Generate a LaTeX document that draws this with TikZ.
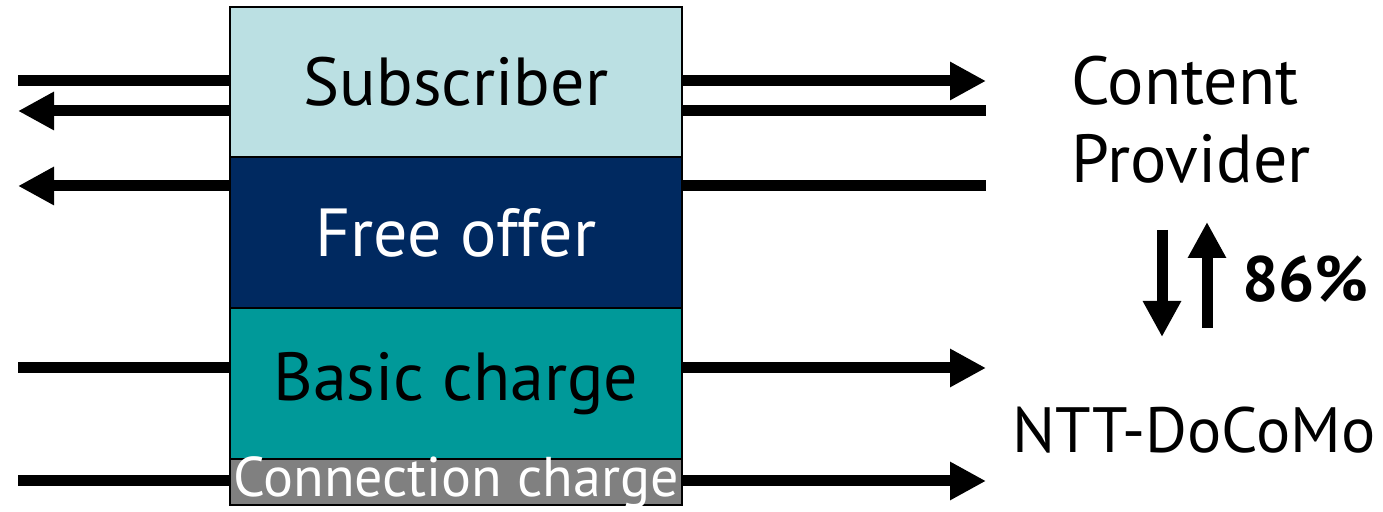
\documentclass[tikz,border=0pt]{standalone}
\usepackage{fontspec}
\setmainfont{PT Sans}
\usetikzlibrary{arrows.meta}

\definecolor{subcol}{HTML}{BBE0E3}
\definecolor{freecol}{HTML}{002960}
\definecolor{basiccol}{HTML}{009999}
\definecolor{conncol}{HTML}{808080}

\tikzset{
 band/.style={draw=black, line width=0.8pt, minimum width=226pt, inner sep=0, font=\fontsize{34}{40}\selectfont},
 flow/.style={line width=5.5pt, >={Triangle[length=18pt,width=18pt]}},
 party/.style={inner sep=0, font=\fontsize{34}{39}\selectfont}
}

\begin{document}
\begin{tikzpicture}[x=0.5pt,y=0.5pt]
\useasboundingbox (0,0) rectangle (1383,512);
\node[band, fill=subcol, minimum height=75pt] (sub) at (456,430) {Subscriber};
\node[band, fill=freecol, text=white, minimum height=75.5pt] (free) at (456,279.5) {Free offer};
\node[band, fill=basiccol, minimum height=75.5pt] (basic) at (456,128.5) {Basic charge};
\node[band, fill=conncol, text=white, minimum height=23pt, text height=19pt, text depth=4pt, font=\fontsize{28}{33}\selectfont] (conn) at (456,30) {Connection charge};
\foreach \y/\n in {431/a, 401/b, 326/c, 144/d, 31/e} {
 \coordinate (L\n) at (18,\y);
 \coordinate (R\n) at (986,\y);
}
\draw[flow] (sub.west |- La) -- (La);
\draw[flow, ->] (sub.west |- Lb) -- (Lb);
\draw[flow, ->] (free.west |- Lc) -- (Lc);
\draw[flow] (basic.west |- Ld) -- (Ld);
\draw[flow] (conn.west |- Le) -- (Le);
\draw[flow, ->] (sub.east |- Ra) -- (Ra);
\draw[flow] (sub.east |- Rb) -- (Rb);
\draw[flow] (free.east |- Rc) -- (Rc);
\draw[flow, ->] (basic.east |- Rd) -- (Rd);
\draw[flow, ->] (conn.east |- Re) -- (Re);
\node[party, align=left, anchor=north west] (cp) at (1071,456) {Content\\Provider};
\node[party, anchor=base, font=\fontsize{32}{38}\selectfont] (ntt) at (1194,59) {NTT-DoCoMo};
\node[party, anchor=base west, font=\fontsize{32}{38}\bfseries] (share) at (1242,210) {86\%};
\coordinate (downtop) at (1162,282);
\coordinate (downtip) at (1162,175);
\coordinate (upbot) at (1207,184);
\coordinate (uptip) at (1207,290);
\draw[flow, ->] (downtop) -- (downtip);
\draw[flow, ->] (upbot) -- (uptip);
\end{tikzpicture}
\end{document}
